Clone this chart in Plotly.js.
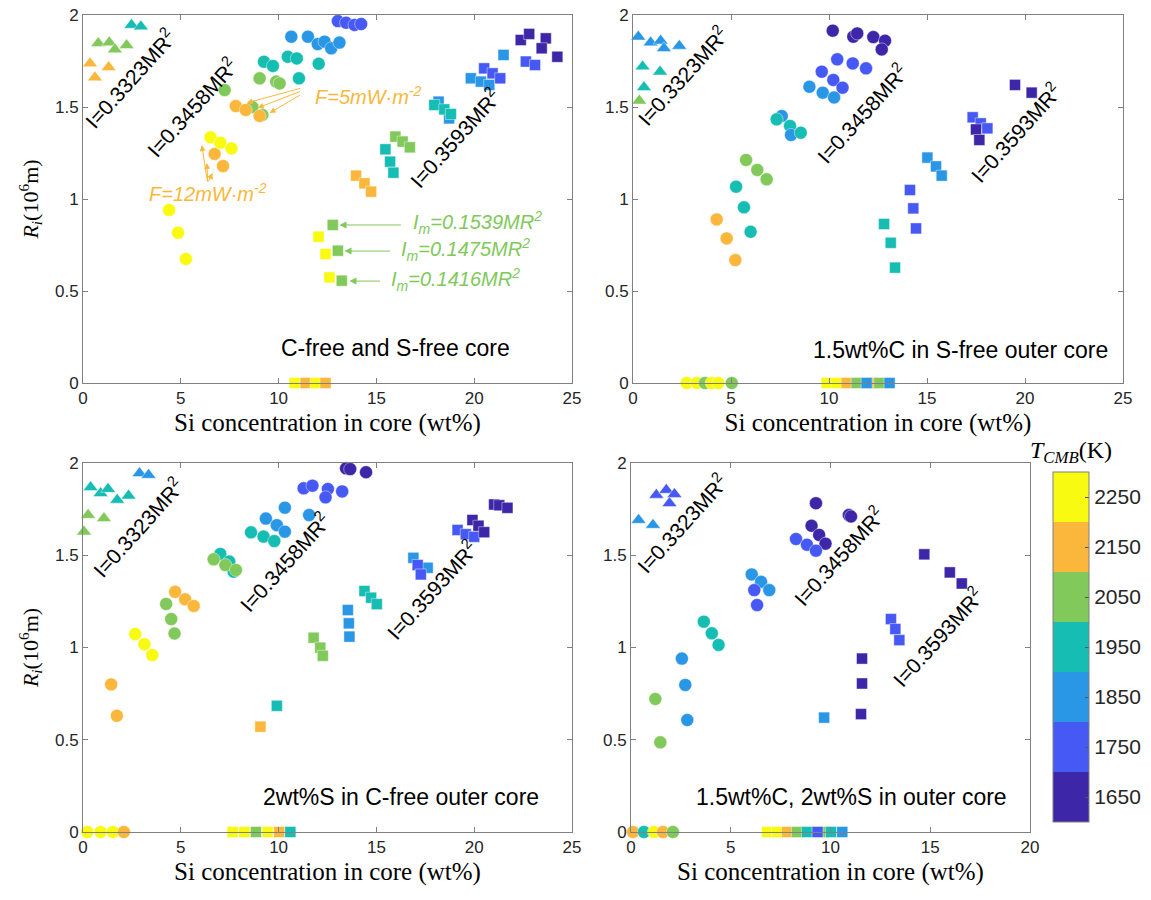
<!DOCTYPE html>
<html><head><meta charset="utf-8">
<script src="https://cdn.plot.ly/plotly-3.0.1.min.js"></script>
<style>html,body{margin:0;padding:0;background:#fff}#plot{width:1151px;height:900px}</style>
</head><body><div id="plot"></div>
<script>
// ---------- Panel 1: C-free and S-free core ----------
const p1TriX = [2.48, 2.96, 0.78, 1.34, 1.63, 2.23, 0.36, 1.31, 0.61];
const p1TriY = [1.946, 1.937, 1.846, 1.851, 1.813, 1.835, 1.737, 1.716, 1.66];
const p1TriT = [1950, 1950, 2050, 2050, 2050, 2050, 2150, 2150, 2150];

const p1CirX = [13.03, 13.45, 13.88, 14.22, 10.65, 11.5, 12.0, 12.35, 12.69, 13.11, 9.25, 9.71, 10.47, 10.93, 12.05, 11.04, 9.03, 9.88, 10.05, 7.24, 8.66, 9.17, 7.81, 8.32, 9.03, 6.73, 7.16, 6.52, 7.02, 7.59, 4.40, 4.86, 5.26];
const p1CirY = [1.967, 1.958, 1.946, 1.951, 1.882, 1.882, 1.842, 1.855, 1.819, 1.85, 1.746, 1.723, 1.773, 1.764, 1.735, 1.656, 1.656, 1.638, 1.628, 1.592, 1.50, 1.457, 1.505, 1.484, 1.451, 1.245, 1.179, 1.335, 1.306, 1.275, 0.94, 0.817, 0.674];
const p1CirT = [1750, 1750, 1750, 1750, 1850, 1850, 1850, 1850, 1850, 1850, 1950, 1950, 1950, 1950, 1950, 1950, 2050, 2050, 2050, 2050, 2050, 2050, 2150, 2150, 2150, 2150, 2150, 2250, 2250, 2250, 2250, 2250, 2250];

const p1SqX = [13.96, 14.39, 14.73, 15.46, 15.7, 15.87, 15.97, 16.34, 16.71, 18.18, 18.72, 17.96, 18.47, 18.81, 19.83, 20.34, 20.77, 21.5, 20.51, 20.94, 21.33, 22.64, 23.11, 22.38, 22.81, 23.66, 23.45, 24.25, 12.77, 13.03, 13.23, 12.04, 12.4, 12.6, 10.82, 11.38, 11.89, 12.4];
const p1SqY = [1.127, 1.085, 1.04, 1.27, 1.203, 1.143, 1.339, 1.312, 1.281, 1.529, 1.438, 1.511, 1.487, 1.462, 1.656, 1.638, 1.62, 1.783, 1.71, 1.683, 1.656, 1.747, 1.728, 1.864, 1.897, 1.873, 1.819, 1.773, 0.859, 0.719, 0.556, 0.795, 0.701, 0.574, 0, 0, 0, 0];
const p1SqT = [2150, 2150, 2150, 1950, 1950, 1950, 2050, 2050, 2050, 1850, 1850, 1950, 1950, 1950, 1850, 1850, 1850, 1850, 1750, 1750, 1750, 1750, 1750, 1650, 1650, 1650, 1650, 1650, 2050, 2050, 2050, 2250, 2250, 2250, 2250, 2150, 2250, 2150];

// ---------- Panel 2: 1.5wt%C in S-free outer core ----------
const p2TriX = [0.27, 0.90, 1.41, 1.58, 2.36, 0.49, 1.38, 0.56, 0.32];
const p2TriY = [1.882, 1.85, 1.86, 1.819, 1.832, 1.72, 1.692, 1.607, 1.534];
const p2TriT = [1850, 1850, 1850, 1850, 1850, 1950, 1950, 1950, 2050];

const p2CirX = [10.19, 11.24, 11.44, 12.26, 12.86, 12.69, 10.42, 11.21, 11.89, 9.63, 10.22, 10.69, 9.0, 9.68, 10.26, 7.59, 7.33, 8.01, 8.06, 8.56, 5.77, 6.34, 6.82, 5.26, 5.66, 6.0, 4.27, 4.78, 5.22, 2.74, 3.25, 3.67, 4.01, 4.35, 5.04];
const p2CirY = [1.915, 1.882, 1.9, 1.88, 1.86, 1.813, 1.759, 1.737, 1.71, 1.692, 1.647, 1.605, 1.61, 1.578, 1.552, 1.451, 1.433, 1.397, 1.348, 1.36, 1.212, 1.158, 1.107, 1.067, 0.955, 0.822, 0.889, 0.786, 0.668, 0, 0, 0, 0, 0, 0];
const p2CirT = [1650, 1650, 1650, 1650, 1650, 1650, 1750, 1750, 1750, 1750, 1750, 1750, 1850, 1850, 1850, 1850, 1950, 1950, 1850, 1950, 2050, 2050, 2050, 1950, 1950, 1950, 2150, 2150, 2150, 2250, 2250, 2050, 2250, 2250, 2050];

const p2SqX = [14.13, 14.3, 14.44, 12.81, 13.15, 13.37, 15.02, 15.46, 15.75, 17.33, 17.74, 18.08, 17.5, 17.67, 19.49, 20.34, 9.88, 10.39, 10.9, 11.41, 12.2, 11.92, 12.57, 13.09];
const p2SqY = [1.049, 0.949, 0.84, 0.864, 0.762, 0.627, 1.225, 1.177, 1.127, 1.444, 1.411, 1.384, 1.378, 1.321, 1.62, 1.578, 0, 0, 0, 0, 0, 0, 0, 0];
const p2SqT = [1750, 1750, 1750, 1950, 1950, 1950, 1850, 1850, 1850, 1750, 1750, 1750, 1650, 1650, 1650, 1650, 2250, 2250, 2150, 2050, 2150, 1850, 2050, 1850];

// ---------- Panel 3: 2wt%S in C-free outer core ----------
const p3TriX = [2.89, 3.35, 0.39, 0.9, 1.28, 1.75, 2.33, 0.26, 1.07, 0.05];
const p3TriY = [1.944, 1.935, 1.868, 1.836, 1.859, 1.8, 1.823, 1.718, 1.7, 1.628];
const p3TriT = [1850, 1850, 1950, 1950, 1950, 1950, 1950, 2050, 2050, 2050];

const p3CirX = [7.02, 7.48, 7.7, 8.59, 9.23, 9.78, 6.68, 7.28, 7.82, 4.25, 4.51, 4.68, 4.71, 5.22, 5.66, 1.44, 1.73, 2.67, 3.14, 3.54, 9.35, 9.91, 10.32, 10.32, 11.56, 11.28, 11.73, 12.52, 12.4, 13.25, 13.45, 13.66, 14.47, 0.22, 0.9, 1.53, 2.09];
const p3CirY = [1.507, 1.466, 1.411, 1.624, 1.601, 1.577, 1.478, 1.447, 1.42, 1.236, 1.154, 1.076, 1.302, 1.261, 1.225, 0.8, 0.63, 1.073, 1.018, 0.959, 1.699, 1.663, 1.628, 1.758, 1.718, 1.863, 1.877, 1.859, 1.814, 1.846, 1.971, 1.967, 1.95, 0, 0, 0, 0];
const p3CirT = [1950, 1950, 1950, 1950, 1950, 1950, 2050, 2050, 2050, 2050, 2050, 2050, 2150, 2150, 2150, 2150, 2150, 2250, 2250, 2250, 1850, 1850, 1850, 1850, 1850, 1750, 1750, 1750, 1750, 1750, 1650, 1650, 1650, 2250, 2250, 2250, 2150];

const p3SqX = [11.79, 12.13, 12.26, 9.91, 9.07, 13.54, 13.59, 13.62, 14.39, 14.73, 15.02, 16.89, 17.62, 17.11, 17.27, 19.15, 19.57, 20.0, 19.91, 20.22, 20.51, 21.02, 21.28, 21.7, 7.65, 8.25, 8.84, 9.44, 10.03, 10.6];
const p3SqY = [1.053, 0.999, 0.955, 0.684, 0.571, 1.203, 1.131, 1.059, 1.306, 1.27, 1.235, 1.486, 1.432, 1.447, 1.396, 1.637, 1.614, 1.6, 1.691, 1.66, 1.625, 1.775, 1.771, 1.757, 0, 0, 0, 0, 0, 0];
const p3SqT = [2050, 2050, 2050, 1950, 2150, 1850, 1850, 1850, 1950, 1950, 1950, 1850, 1850, 1750, 1750, 1750, 1750, 1750, 1650, 1650, 1650, 1650, 1650, 1650, 2250, 2250, 2050, 2250, 2150, 1950];

// ---------- Panel 4: 1.5wt%C, 2wt%S in outer core ----------
const p4TriX = [1.27, 1.77, 2.18, 1.93, 0.38, 1.1];
const p4TriY = [1.827, 1.854, 1.831, 1.782, 1.691, 1.664];
const p4TriT = [1750, 1750, 1750, 1750, 1850, 1850];

const p4CirX = [9.27, 9.05, 9.43, 9.75, 10.92, 11.03, 8.27, 8.82, 9.27, 6.05, 6.52, 6.93, 6.18, 6.32, 2.55, 2.72, 2.82, 3.65, 4.05, 4.39, 1.22, 1.47, 0.1, 0.65, 1.15, 1.6, 2.1];
const p4CirY = [1.782, 1.66, 1.61, 1.563, 1.718, 1.71, 1.588, 1.557, 1.525, 1.396, 1.356, 1.311, 1.311, 1.23, 0.94, 0.797, 0.607, 1.14, 1.077, 1.014, 0.721, 0.486, 0, 0, 0, 0, 0];
const p4CirT = [1650, 1650, 1650, 1650, 1650, 1650, 1750, 1750, 1750, 1850, 1850, 1850, 1750, 1750, 1850, 1850, 1850, 1950, 1950, 1950, 2050, 2050, 2150, 1950, 2250, 2150, 2050];

const p4SqX = [9.68, 14.7, 15.98, 16.58, 11.58, 11.58, 11.53, 13.03, 13.25, 13.45, 6.82, 7.32, 7.82, 8.32, 8.82, 9.75, 9.35, 10.03, 10.59];
const p4SqY = [0.62, 1.505, 1.407, 1.347, 0.94, 0.805, 0.639, 1.154, 1.1, 1.04, 0, 0, 0, 0, 0, 0, 0, 0, 0];
const p4SqT = [1850, 1650, 1650, 1650, 1650, 1650, 1650, 1750, 1750, 1750, 2250, 2250, 2150, 2050, 1950, 2050, 1750, 1950, 1850];

// ---------- Colour levels ----------
const tLevels = [1650, 1750, 1850, 1950, 2050, 2150, 2250];
const tColors = ['#3E26A8', '#4659F5', '#2A96E6', '#16BDB3', '#80C95A', '#FBB73C', '#F8FA12'];
const panelLabels = ['C-free and S-free core', '1.5wt%C in S-free outer core', '2wt%S in C-free outer core', '1.5wt%C, 2wt%S in outer core'];
const inertiaLabels = ['I=0.3323MR<sup>2</sup>', 'I=0.3458MR<sup>2</sup>', 'I=0.3593MR<sup>2</sup>'];

// discrete colour scale
const cs = [];
tColors.forEach((c, i) => { cs.push([i / 7, c]); cs.push([(i + 1) / 7, c]); });

const panels = [
  {ax: '', tri: [p1TriX, p1TriY, p1TriT], cir: [p1CirX, p1CirY, p1CirT], sq: [p1SqX, p1SqY, p1SqT]},
  {ax: '2', tri: [p2TriX, p2TriY, p2TriT], cir: [p2CirX, p2CirY, p2CirT], sq: [p2SqX, p2SqY, p2SqT]},
  {ax: '3', tri: [p3TriX, p3TriY, p3TriT], cir: [p3CirX, p3CirY, p3CirT], sq: [p3SqX, p3SqY, p3SqT]},
  {ax: '4', tri: [p4TriX, p4TriY, p4TriT], cir: [p4CirX, p4CirY, p4CirT], sq: [p4SqX, p4SqY, p4SqT]}
];
const yOf = {'': 'y', '2': 'y2', '3': 'y3', '4': 'y4'};

const traces = [];
panels.forEach(p => {
  [['tri', 'triangle-up', 13], ['cir', 'circle', 13], ['sq', 'square', 11]].forEach(([k, sym, sz]) => {
    traces.push({
      type: 'scatter', mode: 'markers', x: p[k][0], y: p[k][1],
      xaxis: 'x' + p.ax, yaxis: yOf[p.ax], cliponaxis: false, showlegend: false, hoverinfo: 'x+y',
      marker: {symbol: sym, size: sz, color: p[k][2], coloraxis: 'coloraxis',
               line: {width: 0.6, color: 'rgba(255,255,255,0.7)'}}
    });
  });
});

const W = 1151, H = 900;
const px = v => v / W, py = v => (H - v) / H;
const tickFont = {family: 'Liberation Sans, Arial, sans-serif', size: 17, color: '#262626'};
const xTitleFont = {family: 'Liberation Serif, Times New Roman, serif', size: 25, color: '#000'};
const yTitleFont = {family: 'Liberation Serif, Times New Roman, serif', size: 22, color: '#000'};
function xa(d0, d1, maxv, anchor) {
  return {domain: [px(d0), px(d1)], range: [0, maxv], anchor: anchor, dtick: 5, tick0: 0,
    showgrid: false, zeroline: false, showline: true, linecolor: '#808080', linewidth: 1, mirror: 'allticks',
    ticks: 'inside', ticklen: 5, tickcolor: '#808080', tickfont: tickFont,
    title: {text: 'Si concentration in core (wt%)', font: xTitleFont, standoff: 6}};
}
function ya(t0, t1, anchor, withTitle) {
  return {domain: [py(t1), py(t0)], range: [0, 2], anchor: anchor,
    tickvals: [0, 0.5, 1, 1.5, 2], ticktext: ['0', '0.5', '1', '1.5', '2'],
    showgrid: false, zeroline: false, showline: true, linecolor: '#808080', linewidth: 1, mirror: 'allticks',
    ticks: 'inside', ticklen: 5, tickcolor: '#808080', tickfont: tickFont,
    title: withTitle ? {text: '<i>R<sub>i</sub></i>(10<sup>6</sup>m)', font: yTitleFont, standoff: 10} : {text: ''}};
}

const layout = {
  width: W, height: H, margin: {l: 0, r: 0, t: 0, b: 0}, paper_bgcolor: '#fff', plot_bgcolor: '#fff',
  xaxis: xa(83, 572, 25, 'y'), yaxis: ya(15, 383, 'x', true),
  xaxis2: xa(633, 1123, 25, 'y2'), yaxis2: ya(15, 383, 'x2', false),
  xaxis3: xa(83, 572, 25, 'y3'), yaxis3: ya(463, 832, 'x3', true),
  xaxis4: xa(631, 1030, 20, 'y4'), yaxis4: ya(463, 832, 'x4', false),
  coloraxis: {colorscale: cs, cmin: 1600, cmax: 2300, showscale: true,
    colorbar: {x: px(1053), xanchor: 'left', xref: 'paper', y: py(822), yanchor: 'bottom', yref: 'paper',
      thickness: 36, thicknessmode: 'pixels', len: 350, lenmode: 'pixels',
      outlinewidth: 1, outlinecolor: '#808080', ticks: 'inside', ticklen: 4, tickcolor: '#555',
      tickvals: tLevels, ticktext: tLevels.map(String),
      tickfont: {family: 'Liberation Sans, Arial, sans-serif', size: 21, color: '#262626'},
      xpad: 0, ypad: 0, title: {text: ''}}},
  annotations: []
};

const ann = layout.annotations;
// colour bar title
ann.push({xref: 'paper', yref: 'paper', x: px(1028), y: py(452), xanchor: 'left', yanchor: 'middle',
  text: '<i>T<sub>CMB</sub></i>(K)', showarrow: false,
  font: {family: 'Liberation Serif, Times New Roman, serif', size: 24, color: '#000'}});
const iFont = {family: 'Liberation Sans, Arial, sans-serif', size: 21, color: '#000'};
// rotated inertia labels [panel axis, label idx, x, y]
[['', 0, 2.4, 1.658], ['', 1, 5.56, 1.5], ['', 2, 18.98, 1.332],
 ['2', 0, 2.5, 1.668], ['2', 1, 11.68, 1.467], ['2', 2, 19.49, 1.359],
 ['3', 0, 2.81, 1.653], ['3', 1, 10.3, 1.463], ['3', 2, 17.8, 1.312],
 ['4', 0, 2.55, 1.675], ['4', 1, 10.4, 1.496], ['4', 2, 15.35, 1.057]].forEach(([a, i, x, y]) => {
  ann.push({xref: 'x' + a, yref: yOf[a], x: x, y: y, text: inertiaLabels[i], textangle: -48,
    showarrow: false, font: iFont});
});
// panel labels
[['', 15.97, 0.19], ['2', 16.73, 0.18], ['3', 16.28, 0.19], ['4', 11.05, 0.19]].forEach(([a, x, y], i) => {
  ann.push({xref: 'x' + a, yref: yOf[a], x: x, y: y, text: panelLabels[i], showarrow: false,
    font: {family: 'Liberation Sans, Arial, sans-serif', size: 23, color: '#000'}});
});
// heat-flux labels and arrows (panel 1)
const orange = '#FBB73C', green = '#80C95A';
const fFont = {family: 'Liberation Sans, Arial, sans-serif', size: 20, color: orange};
ann.push({xref: 'x', yref: 'y', x: 14.59, y: 1.565, text: '<i>F=5mW·m<sup>-2</sup></i>', showarrow: false, font: fFont});
ann.push({xref: 'x', yref: 'y', x: 6.38, y: 1.038, text: '<i>F=12mW·m<sup>-2</sup></i>', showarrow: false, font: fFont});
[[8.37, 1.522, 55, -15], [8.93, 1.495, 44, -17], [9.54, 1.467, 32, -19]].forEach(([x, y, ax, ay]) => {
  ann.push({xref: 'x', yref: 'y', x: x, y: y, ax: ax, ay: ay, text: '', showarrow: true,
    arrowhead: 2, arrowsize: 1.2, arrowwidth: 1, arrowcolor: orange});
});
[[6.07, 1.293, 6, 38], [6.33, 1.196, 1, 20], [6.63, 1.141, -5, 10]].forEach(([x, y, ax, ay]) => {
  ann.push({xref: 'x', yref: 'y', x: x, y: y, ax: ax, ay: ay, text: '', showarrow: true,
    arrowhead: 2, arrowsize: 1.2, arrowwidth: 1, arrowcolor: orange});
});
// inner-core moment labels
const imLabels = ['0.1539', '0.1475', '0.1416'];
[[16.79, 0.87, 13.11, 0.859, 63], [16.17, 0.723, 13.37, 0.717, 47], [15.66, 0.56, 13.62, 0.554, 32]].forEach(([tx, ty, hx, hy, ax], i) => {
  ann.push({xref: 'x', yref: 'y', x: tx, y: ty, xanchor: 'left', showarrow: false,
    text: '<i>I<sub>m</sub>=' + imLabels[i] + 'MR<sup>2</sup></i>',
    font: {family: 'Liberation Sans, Arial, sans-serif', size: 20, color: green}});
  ann.push({xref: 'x', yref: 'y', x: hx, y: hy, ax: ax, ay: 0, text: '', showarrow: true,
    arrowhead: 2, arrowsize: 1.4, arrowwidth: 1, arrowcolor: green});
});

Plotly.newPlot('plot', traces, layout, {displayModeBar: false, staticPlot: true});
</script>
</body></html>
